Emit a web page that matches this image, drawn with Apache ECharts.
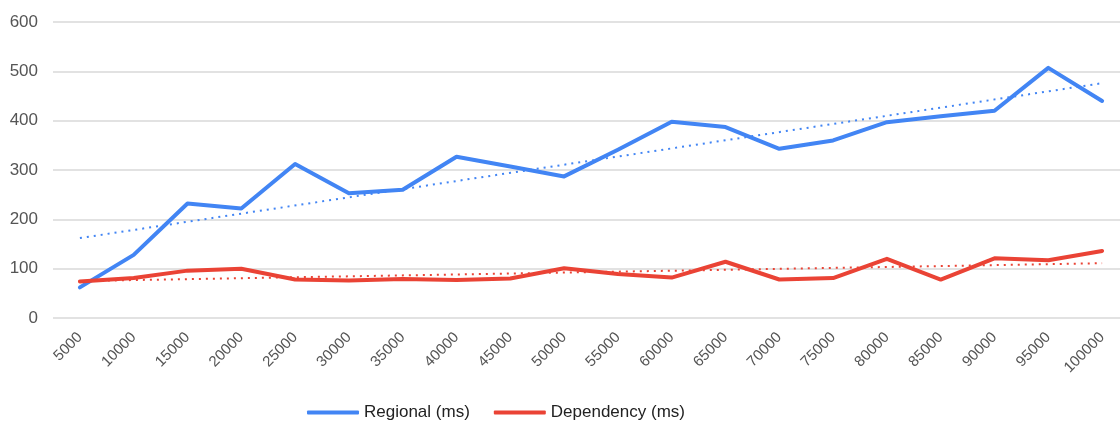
<!DOCTYPE html>
<html>
<head>
<meta charset="utf-8">
<script src="https://cdn.jsdelivr.net/npm/echarts@6/dist/echarts.min.js"></script>
<style>
  html, body { margin: 0; padding: 0; background: #ffffff; overflow: hidden; }
  /* plot runs slightly past the right edge of the window */
  #chart { width: 1132px; height: 421px; }
</style>
</head>
<body>
<div id="chart"></div>
<script>
// Batch sizes on the x axis
const categories = ['5000', '10000', '15000', '20000', '25000', '30000', '35000', '40000', '45000', '50000',
  '55000', '60000', '65000', '70000', '75000', '80000', '85000', '90000', '95000', '100000'];

// Response times in milliseconds
const regional = [62, 128, 232, 222, 312, 253, 260, 327, 307, 287,
  341, 398, 387, 343, 360, 397, 409, 420, 507, 440];
const dependency = [74, 81, 96, 100, 78, 76, 79, 77, 80, 101,
  89, 82, 114, 78, 81, 120, 78, 121, 117, 136];

// Linear trendline endpoints (first and last batch size)
const regionalTrend = [162, 476];
const dependencyTrend = [75, 111];

const yTicks = { min: 0, max: 600, interval: 100 };

const BLUE = '#4285F4';
const RED = '#EA4335';
const FONT = 'Liberation Sans, Arial, sans-serif';

// Trendline series: only the end values, joined across the gaps
function trendData(ends) {
  return categories.map((_, i) => i === 0 ? ends[0] : (i === categories.length - 1 ? ends[1] : null));
}

const chart = echarts.init(document.getElementById('chart'), null, { renderer: 'canvas' });

chart.setOption({
  animation: false,
  backgroundColor: '#ffffff',
  textStyle: { fontFamily: FONT },
  grid: { left: 53, top: 22, width: 1076, height: 296, containLabel: false },
  legend: {
    data: ['Regional (ms)', 'Dependency (ms)'],
    top: 399,
    left: 302,
    itemWidth: 52,
    itemHeight: 4,
    itemGap: 24,
    icon: 'roundRect',
    textStyle: { fontSize: 17, color: '#222222', fontFamily: FONT }
  },
  xAxis: {
    type: 'category',
    data: categories,
    boundaryGap: true,
    axisLine: { show: false },
    axisTick: { show: false },
    axisLabel: {
      rotate: 45,
      interval: 0,
      margin: 17,
      fontSize: 15,
      color: '#555555',
      fontFamily: FONT
    }
  },
  yAxis: {
    type: 'value',
    min: yTicks.min,
    max: yTicks.max,
    interval: yTicks.interval,
    axisLine: { show: false },
    axisTick: { show: false },
    axisLabel: { fontSize: 17, color: '#555555', margin: 15, fontFamily: FONT },
    splitLine: { lineStyle: { color: '#d9d9d9', width: 1.5 } }
  },
  series: [
    {
      name: 'Regional (ms)',
      type: 'line',
      data: regional,
      symbol: 'none',
      color: BLUE,
      lineStyle: { width: 4, color: BLUE, cap: 'round', join: 'round' },
      z: 3
    },
    {
      name: 'Dependency (ms)',
      type: 'line',
      data: dependency,
      symbol: 'none',
      color: RED,
      lineStyle: { width: 4, color: RED, cap: 'round', join: 'round' },
      z: 3
    },
    {
      name: 'Regional trend',
      type: 'line',
      data: trendData(regionalTrend),
      connectNulls: true,
      symbol: 'none',
      silent: true,
      lineStyle: { width: 2, color: BLUE, type: [2, 5] },
      z: 2
    },
    {
      name: 'Dependency trend',
      type: 'line',
      data: trendData(dependencyTrend),
      connectNulls: true,
      symbol: 'none',
      silent: true,
      lineStyle: { width: 2, color: RED, type: [2, 5] },
      z: 2
    }
  ]
});
</script>
</body>
</html>
